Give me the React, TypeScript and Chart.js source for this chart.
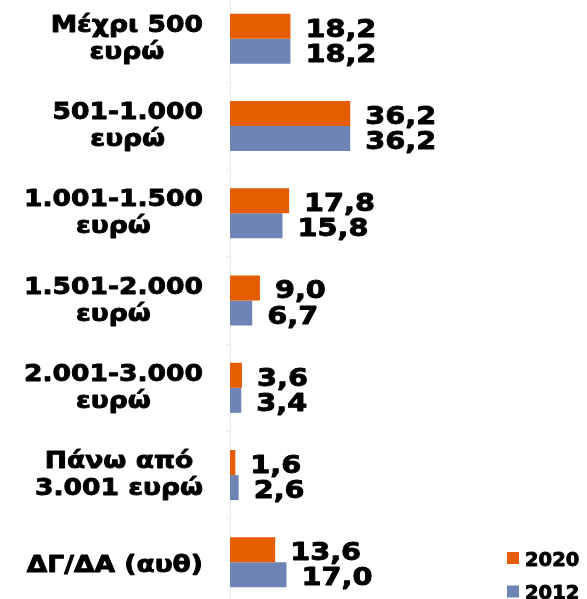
import React, { useEffect, useRef } from "react";
import { Chart, registerables } from "chart.js";

Chart.register(...registerables);

const categories: string[][] = [
  ["Μέχρι 500", "ευρώ"],
  ["501-1.000", "ευρώ"],
  ["1.001-1.500", "ευρώ"],
  ["1.501-2.000", "ευρώ"],
  ["2.001-3.000", "ευρώ"],
  ["Πάνω από", "3.001 ευρώ"],
  ["ΔΓ/ΔΑ (αυθ)"],
];
const values2020 = [18.2, 36.2, 17.8, 9.0, 3.6, 1.6, 13.6];
const values2012 = [18.2, 36.2, 15.8, 6.7, 3.4, 2.6, 17.0];
const seriesLabels = ["2020", "2012"];

const ORANGE = "#E65C00";
const BLUE = "#6E84B4";
const FONT = '"DejaVu Sans", Verdana, sans-serif';
const CAT_FONT = 23.5;
const CAT_SX = 1.13;
const VAL_FONT = 25;
const VAL_SX = 1.15;
const LEG_FONT = 19.5;
const LEG_SX = 1.0;
const LABEL_RIGHT = 203;

const fmt = (v: number) => v.toFixed(1).replace(".", ",");

function drawText(ctx: CanvasRenderingContext2D, text: string, x: number, y: number, sx: number, align: CanvasTextAlign) {
  ctx.save();
  ctx.translate(x, y);
  ctx.scale(sx, 1);
  ctx.textAlign = align;
  ctx.textBaseline = "alphabetic";
  ctx.lineWidth = 0.9;
  ctx.lineJoin = "round";
  ctx.strokeStyle = "#000";
  ctx.fillText(text, 0, 0);
  ctx.strokeText(text, 0, 0);
  ctx.restore();
}

const labelPlugin = {
  id: "customLabels",
  afterDraw(chart: any) {
    const ctx: CanvasRenderingContext2D = chart.ctx;
    const yScale = chart.scales.y;
    ctx.save();
    ctx.fillStyle = "#000";
    // category labels
    ctx.font = `bold ${CAT_FONT}px ${FONT}`;
    categories.forEach((lines, i) => {
      const c = yScale.getPixelForValue(i);
      const bw = Math.max(...lines.map((l) => ctx.measureText(l).width * CAT_SX));
      const cx = LABEL_RIGHT - bw / 2;
      const baselines = lines.length === 2 ? [c - 7, c + 20] : [c + 9.5];
      lines.forEach((l, j) => drawText(ctx, l, cx, baselines[j], CAT_SX, "center"));
    });
    // value labels
    ctx.font = `bold ${VAL_FONT}px ${FONT}`;
    chart.data.datasets.forEach((ds: any, di: number) => {
      const meta = chart.getDatasetMeta(di);
      meta.data.forEach((el: any, i: number) => {
        drawText(ctx, fmt(ds.data[i]), el.x + 15, el.y + 10.5, VAL_SX, "left");
      });
    });
    // legend
    const legendY = [563, 596.5];
    ctx.font = `bold ${LEG_FONT}px ${FONT}`;
    chart.data.datasets.forEach((ds: any, di: number) => {
      const cy = legendY[di];
      ctx.fillStyle = ds.backgroundColor;
      ctx.fillRect(507, cy - 6, 12, 12);
      ctx.fillStyle = "#000";
      drawText(ctx, seriesLabels[di], 525, cy + 7.5, LEG_SX, "left");
    });
    ctx.restore();
  },
};

export default function App() {
  const ref = useRef<HTMLCanvasElement | null>(null);
  useEffect(() => {
    if (!ref.current) return;
    const chart = new Chart(ref.current, {
      type: "bar",
      data: {
        labels: categories.map((c) => c.join(" ")),
        datasets: [
          { label: seriesLabels[0], data: values2020, backgroundColor: ORANGE },
          { label: seriesLabels[1], data: values2012, backgroundColor: BLUE },
        ],
      },
      options: {
        indexAxis: "y",
        animation: false,
        responsive: false,
        maintainAspectRatio: false,
        categoryPercentage: 0.573,
        barPercentage: 1,
        layout: { padding: 0 },
        plugins: { legend: { display: false }, tooltip: { enabled: false } },
        scales: {
          x: { display: false, min: 0, max: 107.5 },
          y: {
            offset: true,
            grid: { display: true, drawOnChartArea: false, offset: true, tickLength: 4, color: "#eeeeee" },
            border: { display: true, color: "#eeeeee" },
            ticks: { display: false },
            afterFit: (s: any) => {
              s.width = 230;
            },
          },
        },
      },
      plugins: [labelPlugin],
    } as any);
    return () => chart.destroy();
  }, []);
  return (
    <div style={{ position: "absolute", left: 0, top: 0, width: 587, height: 599, overflow: "hidden", background: "#fff" }}>
      <canvas ref={ref} width={587} height={611} style={{ position: "absolute", left: 0, top: -5, width: 587, height: 611 }} />
    </div>
  );
}
